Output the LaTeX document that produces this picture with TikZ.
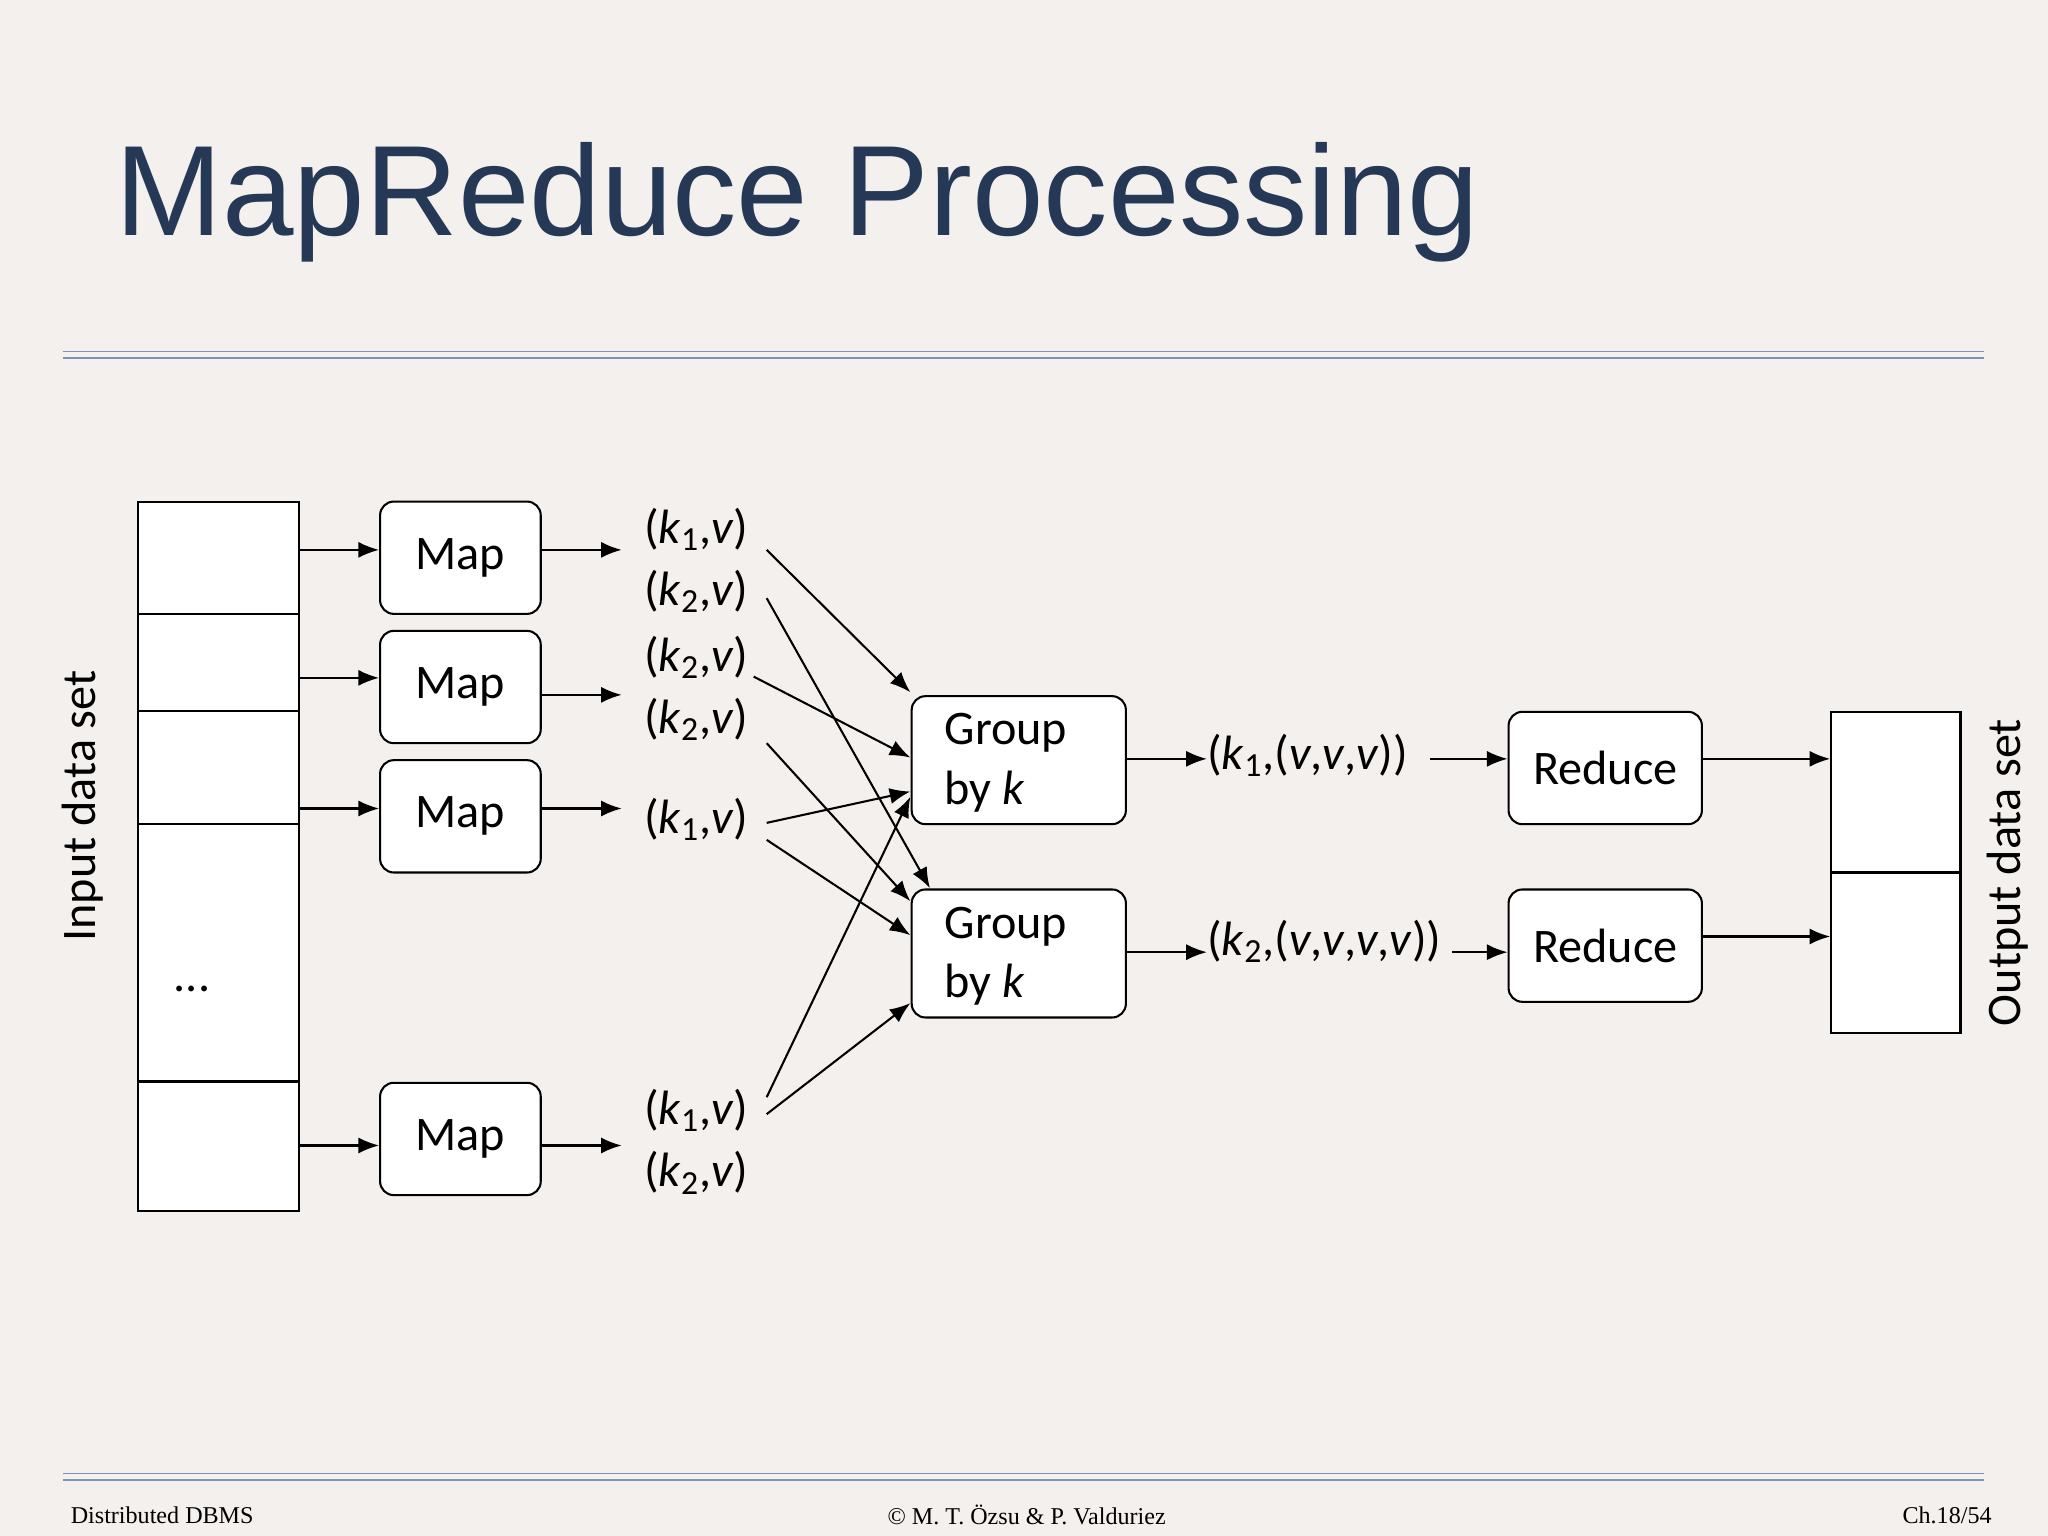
\documentclass[tikz,border=0pt]{standalone}
\usepackage{fontspec}
\setmainfont{Carlito}
\newfontfamily\titlefont{Liberation Sans}
\newfontfamily\footfont{Liberation Serif}
\usetikzlibrary{arrows.meta}
\definecolor{bg}{HTML}{F4F0ED}
\definecolor{navy}{HTML}{253956}
\definecolor{rule}{HTML}{7A93B8}
\newcommand{\kk}[1]{\textit{k}\textsubscript{#1}}
\begin{document}
\begin{tikzpicture}[x=0.02cm,y=-0.02cm,
  box/.style={draw,fill=white,line width=0.9pt,rounded corners=6pt,font=\fontsize{21}{22}\selectfont},
  cell/.style={draw,fill=white,line width=0.9pt},
  lab/.style={font=\fontsize{21}{22}\selectfont,inner sep=0pt},
  arr/.style={-{Latex[length=9pt,width=7pt]},line width=0.9pt},
  dl/.style={rule,line width=0.6pt}]
\fill[bg] (0,0) rectangle (1568,1176);
\useasboundingbox (0,0) rectangle (1568,1176);
\node[anchor=base west,text=navy,font=\titlefont\fontsize{56}{56}\selectfont,inner sep=0pt] (title) at (88,180) {MapReduce Processing};
\draw[dl] (48,269) -- (1519,269); \draw[dl] (48,274) -- (1519,274);
\draw[dl] (48,1128) -- (1519,1128); \draw[dl] (48,1133) -- (1519,1133);
\node[font=\footfont\fontsize{10.5}{10}\selectfont,anchor=west] (f1) at (48,1160) {Distributed DBMS};
\node[font=\footfont\fontsize{10.5}{10}\selectfont] (f2) at (786,1160) {© M. T. Özsu \& P. Valduriez};
\node[font=\footfont\fontsize{10.5}{10}\selectfont,anchor=east] (f3) at (1531,1160) {Ch.18/54};
% input column
\node[cell,minimum width=123*0.02cm,minimum height=86*0.02cm] (i1) at (167.5,427) {};
\node[cell,minimum width=123*0.02cm,minimum height=74*0.02cm] (i2) at (167.5,507) {};
\node[cell,minimum width=123*0.02cm,minimum height=87*0.02cm] (i3) at (167.5,587.5) {};
\node[cell,minimum width=123*0.02cm,minimum height=197*0.02cm] (i4) at (167.5,729.5) {};
\node[cell,minimum width=123*0.02cm,minimum height=99*0.02cm] (i5) at (167.5,877.5) {};
\node[lab] (dots) at (147,757) {...};
\node[lab,rotate=90] (inlab) at (63,617) {Input data set};
% maps
\foreach \n/\y in {1/427,2/526,3/625,4/872}
  \node[box,minimum width=123*0.02cm,minimum height=86*0.02cm] (m\n) at (352.5,\y) {Map};
\draw[arr] (229,421) -- (m1.west|-0,421);
\draw[arr] (229,519) -- (m2.west|-0,519);
\draw[arr] (229,619) -- (m3.west|-0,619);
\draw[arr] (229,877) -- (m4.west|-0,877);
\coordinate (e1) at (476,421); \coordinate (e2) at (476,532);
\coordinate (e3) at (476,619); \coordinate (e4) at (476,877);
\draw[arr] (m1.east|-0,421) -- (e1);
\draw[arr] (m2.east|-0,532) -- (e2);
\draw[arr] (m3.east|-0,619) -- (e3);
\draw[arr] (m4.east|-0,877) -- (e4);
% pairs
\node[lab] (p1) at (533,405) {(\kk{1},\textit{v})};
\node[lab] (p2) at (533,453) {(\kk{2},\textit{v})};
\node[lab] (p3) at (533,503) {(\kk{2},\textit{v})};
\node[lab] (p4) at (533,551) {(\kk{2},\textit{v})};
\node[lab] (p5) at (533,627) {(\kk{1},\textit{v})};
\node[lab] (p6) at (533,850) {(\kk{1},\textit{v})};
\node[lab] (p7) at (533,898) {(\kk{2},\textit{v})};
% groups
\node[box,minimum width=164*0.02cm,minimum height=98*0.02cm] (g1) at (780,582) {};
\node[box,minimum width=164*0.02cm,minimum height=98*0.02cm] (g2) at (780,730) {};
\node[lab,anchor=north west,align=left] (g1t) at (723,546) {Group\\[4pt]by \textit{k}};
\node[lab,anchor=north west,align=left] (g2t) at (723,694) {Group\\[4pt]by \textit{k}};
\draw[arr] (587,421) -- (697,530);
\draw[arr] (587,458) -- (712,680);
\draw[arr] (577,518) -- (697,580);
\draw[arr] (587,569) -- (697,690);
\draw[arr] (587,630) -- (697,606);
\draw[arr] (587,643) -- (697,716);
\draw[arr] (587,840) -- (697,610);
\draw[arr] (587,853) -- (697,768);
% grouped
\node[lab,anchor=west] (q1) at (924,578) {(\kk{1},(\textit{v},\textit{v},\textit{v}))};
\node[lab,anchor=west] (q2) at (924,721) {(\kk{2},(\textit{v},\textit{v},\textit{v},\textit{v}))};
\draw[arr] (g1.east|-0,581) -- (924,581);
\draw[arr] (g2.east|-0,729) -- (924,729);
\node[box,minimum width=148*0.02cm,minimum height=86*0.02cm] (r1) at (1229,588) {Reduce};
\node[box,minimum width=148*0.02cm,minimum height=86*0.02cm] (r2) at (1229,724) {Reduce};
\draw[arr] (1095,581) -- (r1.west|-0,581);
\draw[arr] (1112,729) -- (r2.west|-0,729);
% output
\node[cell,minimum width=99*0.02cm,minimum height=123*0.02cm] (o1) at (1451.5,606.5) {};
\node[cell,minimum width=99*0.02cm,minimum height=123*0.02cm] (o2) at (1451.5,729.5) {};
\draw[arr] (r1.east|-0,581) -- (o1.west|-0,581);
\draw[arr] (r2.east|-0,717) -- (o2.west|-0,717);
\node[lab,rotate=90] (outlab) at (1537,668) {Output data set};
\end{tikzpicture}
\end{document}
